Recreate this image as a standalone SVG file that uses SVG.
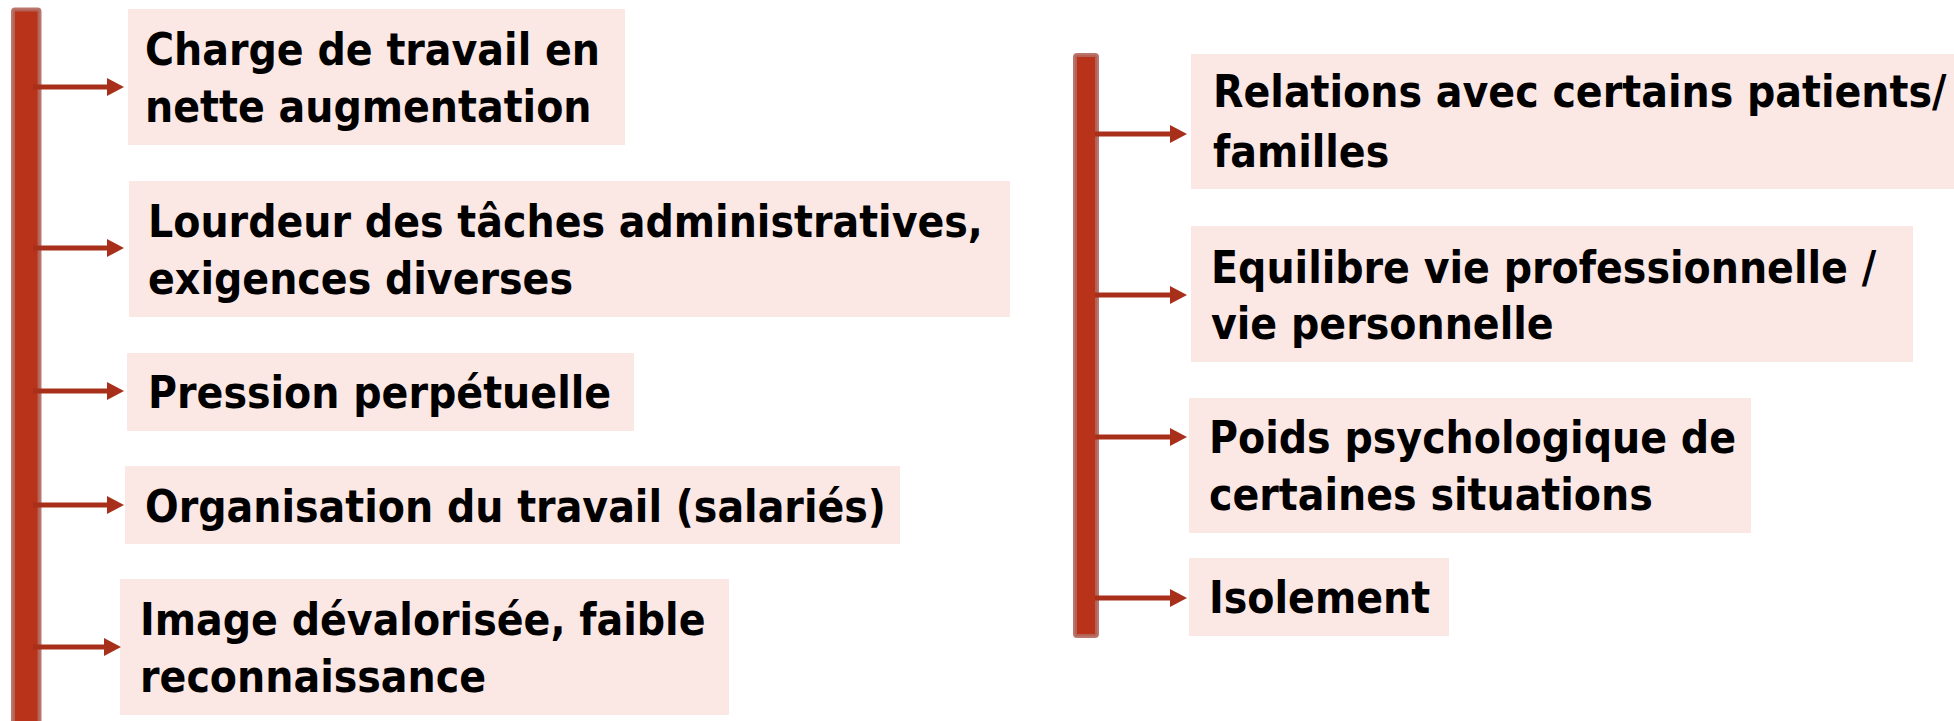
<svg xmlns="http://www.w3.org/2000/svg" width="1954" height="721" viewBox="0 0 1954 721">
  <style>
    .bar { fill: #b8331a; stroke: #b2675c; stroke-width: 4; stroke-opacity: 0.9; }
    .box { fill: #fbe8e5; }
    .lbl { font-family: "DejaVu Sans Condensed", "DejaVu Sans", sans-serif; font-stretch: condensed; font-weight: bold; font-size: 44px; fill: #000000; }
    .link { stroke: #a8301a; stroke-width: 5; fill: none; marker-end: url(#head); }
  </style>
  <defs>
    <marker id="head" markerUnits="userSpaceOnUse" markerWidth="18" markerHeight="19" refX="0" refY="9" orient="auto">
      <path d="M0,0 L17,9 L0,18 z" fill="#a8301a"/>
    </marker>
  </defs>

  <rect width="1954" height="721" fill="#ffffff"/>

  <!-- vertical spines -->
  <g id="spines">
    <rect class="bar" x="13" y="9.5" width="26.5" height="730" rx="2"/>
    <rect class="bar" x="1075" y="55" width="22" height="581" rx="2"/>
  </g>

  <!-- left column -->
  <g id="node-charge">
    <rect class="box" x="128" y="9" width="497" height="136"/>
    <text class="lbl" x="145" y="65">Charge de travail en</text>
    <text class="lbl" x="145" y="122">nette augmentation</text>
  </g>
  <g id="node-lourdeur">
    <rect class="box" x="129" y="181" width="881" height="136"/>
    <text class="lbl" x="148" y="237">Lourdeur des tâches administratives,</text>
    <text class="lbl" x="148" y="294">exigences diverses</text>
  </g>
  <g id="node-pression">
    <rect class="box" x="127" y="353" width="507" height="78"/>
    <text class="lbl" x="148" y="408">Pression perpétuelle</text>
  </g>
  <g id="node-organisation">
    <rect class="box" x="125" y="466" width="775" height="78"/>
    <text class="lbl" x="145" y="522">Organisation du travail (salariés)</text>
  </g>
  <g id="node-image">
    <rect class="box" x="120" y="579" width="609" height="136"/>
    <text class="lbl" x="140" y="635">Image dévalorisée, faible</text>
    <text class="lbl" x="140" y="692">reconnaissance</text>
  </g>

  <!-- right column -->
  <g id="node-relations">
    <rect class="box" x="1191" y="54" width="763" height="135"/>
    <text class="lbl" x="1213" y="107">Relations avec certains patients/</text>
    <text class="lbl" x="1213" y="167">familles</text>
  </g>
  <g id="node-equilibre">
    <rect class="box" x="1191" y="226" width="722" height="136"/>
    <text class="lbl" x="1211" y="283">Equilibre vie professionnelle /</text>
    <text class="lbl" x="1211" y="339">vie personnelle</text>
  </g>
  <g id="node-poids">
    <rect class="box" x="1189" y="398" width="562" height="135"/>
    <text class="lbl" x="1209" y="453">Poids psychologique de</text>
    <text class="lbl" x="1209" y="510">certaines situations</text>
  </g>
  <g id="node-isolement">
    <rect class="box" x="1189" y="558" width="260" height="78"/>
    <text class="lbl" x="1209" y="613">Isolement</text>
  </g>

  <!-- connectors -->
  <g id="connectors">
    <line class="link" x1="33" y1="87" x2="107" y2="87"/>
    <line class="link" x1="33" y1="248" x2="107" y2="248"/>
    <line class="link" x1="33" y1="391" x2="107" y2="391"/>
    <line class="link" x1="33" y1="505" x2="107" y2="505"/>
    <line class="link" x1="33" y1="647" x2="104" y2="647"/>
    <line class="link" x1="1095" y1="134" x2="1170" y2="134"/>
    <line class="link" x1="1095" y1="295" x2="1170" y2="295"/>
    <line class="link" x1="1095" y1="437" x2="1170" y2="437"/>
    <line class="link" x1="1095" y1="598" x2="1170" y2="598"/>
  </g>
</svg>
